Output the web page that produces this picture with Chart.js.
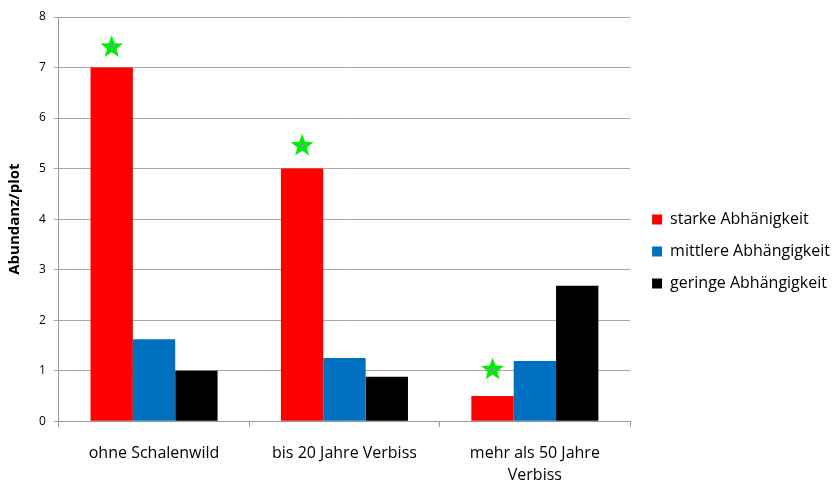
<!DOCTYPE html>
<html>
<head>
<meta charset="utf-8">
<script src="https://cdn.jsdelivr.net/npm/chart.js@4.4.0/dist/chart.umd.min.js"></script>
<style>
  html, body { margin: 0; padding: 0; background: #fff; }
  #wrap { width: 834px; height: 481px; }
</style>
</head>
<body>
<div id="wrap"><canvas id="abundChart" width="834" height="481"></canvas></div>
<script>
const categories = ['ohne Schalenwild', 'bis 20 Jahre Verbiss', ['mehr als 50 Jahre', 'Verbiss']];
const starke = [7, 5, 0.5];
const mittlere = [1.62, 1.25, 1.19];
const geringe = [1, 0.88, 2.68];
// Stern-Markierungen über den roten Balken
const starValues = [7.4, 5.45, 1.02];
const yTicks = [0, 1, 2, 3, 4, 5, 6, 7, 8];

const fontFam = '"Open Sans", Lato, sans-serif';

const starPlugin = {
  id: 'stars',
  afterDatasetsDraw(chart) {
    const ctx = chart.ctx;
    const meta = chart.getDatasetMeta(0);
    const yScale = chart.scales.y;
    starValues.forEach((v, i) => {
      const cx = meta.data[i].x;
      const cy = yScale.getPixelForValue(v);
      const outer = 12, inner = 5;
      ctx.save();
      ctx.beginPath();
      for (let k = 0; k < 10; k++) {
        const r = k % 2 === 0 ? outer : inner;
        const a = -Math.PI / 2 + k * Math.PI / 5;
        const px = cx + r * Math.cos(a);
        const py = cy + r * Math.sin(a);
        if (k === 0) ctx.moveTo(px, py); else ctx.lineTo(px, py);
      }
      ctx.closePath();
      ctx.fillStyle = '#00ee00';
      ctx.fill();
      ctx.beginPath();
      ctx.arc(cx, cy, 2, 0, Math.PI * 2);
      ctx.fillStyle = '#7f8fb8';
      ctx.fill();
      ctx.restore();
    });
  }
};

// Legende etwas nach oben/rechts schieben
const legendShift = {
  id: 'legendShift',
  afterLayout(chart) {
    const lg = chart.legend;
    if (!lg) return;
    lg.top -= 8; lg.bottom -= 8;
    lg.left += 6; lg.right += 6;
  }
};

const ctx = document.getElementById('abundChart').getContext('2d');
const chart = new Chart(ctx, {
  type: 'bar',
  data: {
    labels: categories,
    datasets: [
      { label: 'starke Abhänigkeit', data: starke, backgroundColor: '#ff0000' },
      { label: 'mittlere Abhängigkeit', data: mittlere, backgroundColor: '#0070c0' },
      { label: 'geringe Abhängigkeit', data: geringe, backgroundColor: '#000000' }
    ]
  },
  options: {
    responsive: false,
    animation: false,
    categoryPercentage: 0.667,
    barPercentage: 1.0,
    layout: { padding: { top: 17, right: 0, bottom: -21, left: 0 } },
    plugins: {
      legend: {
        position: 'right',
        align: 'center',
        labels: {
          boxWidth: 10,
          boxHeight: 10,
          padding: 16,
          color: '#000',
          font: { family: fontFam, size: 16 }
        }
      },
      tooltip: { enabled: false }
    },
    scales: {
      x: {
        grid: {
          display: true,
          drawOnChartArea: false,
          drawTicks: true,
          tickLength: 6,
          color: '#999'
        },
        border: { color: '#999' },
        ticks: {
          color: '#000',
          padding: 15,
          font: { family: fontFam, size: 16, lineHeight: 1.4 },
          maxRotation: 0
        }
      },
      y: {
        min: 0,
        max: 8,
        afterBuildTicks(axis) {
          axis.ticks = yTicks.map(v => ({ value: v }));
        },
        grid: { color: '#a6a6a6', drawTicks: true, tickLength: 5 },
        border: { color: '#999' },
        ticks: {
          color: '#000',
          padding: 8,
          font: { family: fontFam, size: 12 }
        },
        title: {
          display: true,
          text: 'Abundanz/plot',
          color: '#000',
          padding: { top: 6, bottom: 7 },
          font: { family: fontFam, size: 15, weight: 'bold' }
        }
      }
    }
  },
  plugins: [starPlugin, legendShift]
});
</script>
</body>
</html>
